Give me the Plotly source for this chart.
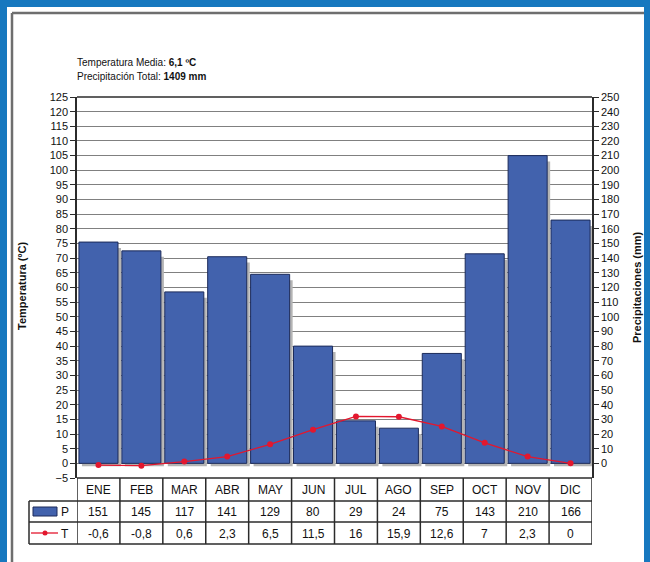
import plotly.graph_objects as go

# Climograma: monthly precipitation (bars) and mean temperature (line)
months = ["ENE", "FEB", "MAR", "ABR", "MAY", "JUN", "JUL", "AGO", "SEP", "OCT", "NOV", "DIC"]
precip_mm = [151, 145, 117, 141, 129, 80, 29, 24, 75, 143, 210, 166]
temp_c = [-0.6, -0.8, 0.6, 2.3, 6.5, 11.5, 16, 15.9, 12.6, 7, 2.3, 0]
temp_ticks = list(range(-5, 130, 5))
precip_ticks = list(range(0, 260, 10))
mean_temp_text = "6,1 ºC"
total_precip_text = "1409 mm"

W, H = 650, 562
L, R, T, B = 77, 592, 97, 478  # plot area in pixels
BAR_BLUE = "#4262ad"
LINE_RED = "#e3172e"
DARK = "#2b2b2b"
FRAME_BLUE = "#1778bf"
BAR_W = 0.91
SHADOW_DX = 0.07   # drop shadow shift, in category units
SHADOW_DY = 2      # drop shadow shift, in mm


def px(xp):
    return (xp - L) / (R - L)


def py(yp):
    return (B - yp) / (B - T)


def es(v):
    return f"{v:g}".replace(".", ",")


fig = go.Figure()
# soft drop shadow behind the bars
fig.add_trace(go.Bar(
    x=months, y=[p - SHADOW_DY for p in precip_mm], base=-SHADOW_DY, yaxis="y",
    width=BAR_W, offset=-BAR_W / 2 + SHADOW_DX,
    marker=dict(color="#b4b4b4", line=dict(width=0)),
    showlegend=False, hoverinfo="skip",
))
fig.add_trace(go.Bar(
    x=months, y=precip_mm, yaxis="y",
    width=BAR_W, offset=-BAR_W / 2,
    marker=dict(color=BAR_BLUE, line=dict(color="#1c2b5a", width=1)),
    showlegend=False,
))
fig.add_trace(go.Scatter(
    x=months, y=temp_c, yaxis="y2", mode="lines+markers",
    line=dict(color=LINE_RED, width=1.3),
    marker=dict(color=LINE_RED, size=6),
    showlegend=False,
))

tick_font = dict(family="Liberation Sans, Arial", size=11, color="#111111")

fig.update_layout(
    width=W, height=H,
    margin=dict(l=L, r=W - R, t=T, b=H - B, pad=0),
    paper_bgcolor="white", plot_bgcolor="white",
    barmode="overlay",
    xaxis=dict(type="category", range=[-0.5, 11.5], showticklabels=False,
               showgrid=False, zeroline=False, showline=False, ticks=""),
    yaxis=dict(side="right", range=[-10, 250], tickmode="array", tickvals=precip_ticks,
               showgrid=True, gridcolor="#808080", gridwidth=1, zeroline=False,
               showline=True, linecolor=DARK, linewidth=1.5,
               ticks="outside", ticklen=5, tickcolor=DARK, tickfont=tick_font),
    yaxis2=dict(side="left", overlaying="y", range=[-5, 125], tickmode="array",
                tickvals=temp_ticks, showgrid=False, zeroline=False,
                showline=True, linecolor=DARK, linewidth=1.5,
                ticks="outside", ticklen=5, tickcolor=DARK, tickfont=tick_font),
)

shapes = []
# outer frame
shapes += [
    dict(type="rect", xref="paper", yref="paper", x0=px(0), x1=px(7), y0=py(H), y1=py(0),
         fillcolor=FRAME_BLUE, line_width=0, layer="above"),
    dict(type="rect", xref="paper", yref="paper", x0=px(0), x1=px(W), y0=py(7), y1=py(0),
         fillcolor=FRAME_BLUE, line_width=0, layer="above"),
    dict(type="rect", xref="paper", yref="paper", x0=px(644), x1=px(W), y0=py(H), y1=py(0),
         fillcolor=FRAME_BLUE, line_width=0, layer="above"),
    dict(type="line", xref="paper", yref="paper", x0=px(12), x1=px(12), y0=py(H), y1=py(13),
         line=dict(color="#6e6e6e", width=2.5), layer="above"),
    dict(type="line", xref="paper", yref="paper", x0=px(12), x1=px(644), y0=py(13), y1=py(13),
         line=dict(color="#6e6e6e", width=2.5), layer="above"),
]
# plot top border
shapes.append(dict(type="line", xref="paper", yref="paper", x0=0, x1=1, y0=1, y1=1,
                   line=dict(color=DARK, width=1.5), layer="above"))

# data table below the plot
row_lines = [478, 501, 522, 544]
tbl_left = 29
for i, yl in enumerate(row_lines):
    x0 = px(L) if i == 0 else px(tbl_left)
    shapes.append(dict(type="line", xref="paper", yref="paper", x0=x0, x1=1,
                       y0=py(yl), y1=py(yl), line=dict(color=DARK, width=1.5), layer="above"))
shapes.append(dict(type="line", xref="paper", yref="paper", x0=px(tbl_left), x1=px(tbl_left),
                   y0=py(501), y1=py(544), line=dict(color=DARK, width=1.5), layer="above"))
for k in range(len(months) + 1):
    xb = k - 0.5
    shapes.append(dict(type="line", xref="x", yref="paper", x0=xb, x1=xb,
                       y0=py(478), y1=py(544), line=dict(color=DARK, width=1.5), layer="above"))
# legend keys
shapes.append(dict(type="rect", xref="paper", yref="paper", x0=px(33), x1=px(57),
                   y0=py(516), y1=py(507), fillcolor=BAR_BLUE,
                   line=dict(color="#1c2b5a", width=1), layer="above"))
shapes.append(dict(type="line", xref="paper", yref="paper", x0=px(31), x1=px(58),
                   y0=py(533), y1=py(533), line=dict(color=LINE_RED, width=1.3), layer="above"))
shapes.append(dict(type="circle", xref="paper", yref="paper", x0=px(42.5), x1=px(47.5),
                   y0=py(535.5), y1=py(530.5), fillcolor=LINE_RED, line_width=0, layer="above"))


def label(x, xref, y, text, font, **kw):
    d = dict(x=x, xref=xref, y=y, yref="paper", text=text, showarrow=False, font=font,
             xanchor="center", yanchor="middle")
    d.update(kw)
    return d


cell_font = dict(family="Liberation Sans, Arial", size=12, color="#111111")
ann = []
for m, p, t in zip(months, precip_mm, temp_c):
    ann.append(label(m, "x", py(490), m, cell_font))
    ann.append(label(m, "x", py(512), str(p), cell_font))
    ann.append(label(m, "x", py(534), es(t), cell_font))
ann.append(label(px(65), "paper", py(512), "P", cell_font))
ann.append(label(px(65), "paper", py(534), "T", cell_font))

# axis titles
title_font = dict(family="Liberation Sans, Arial", size=11, color="#111111")
ann.append(label(px(22), "paper", py(286), "<b>Temperatura (ºC)</b>", title_font, textangle=-90))
ann.append(label(px(637), "paper", py(287), "<b>Precipitaciones (mm)</b>", title_font,
                 textangle=-90))

# summary header
head_font = dict(family="Liberation Sans, Arial", size=10, color="#111111")
ann.append(label(px(75), "paper", py(62), f"Temperatura Media: <b>{mean_temp_text}</b>",
                 head_font, xanchor="left"))
ann.append(label(px(75), "paper", py(76), f"Precipitación Total: <b>{total_precip_text}</b>",
                 head_font, xanchor="left"))

fig.update_layout(shapes=shapes, annotations=ann)
fig.write_html("out.html")
